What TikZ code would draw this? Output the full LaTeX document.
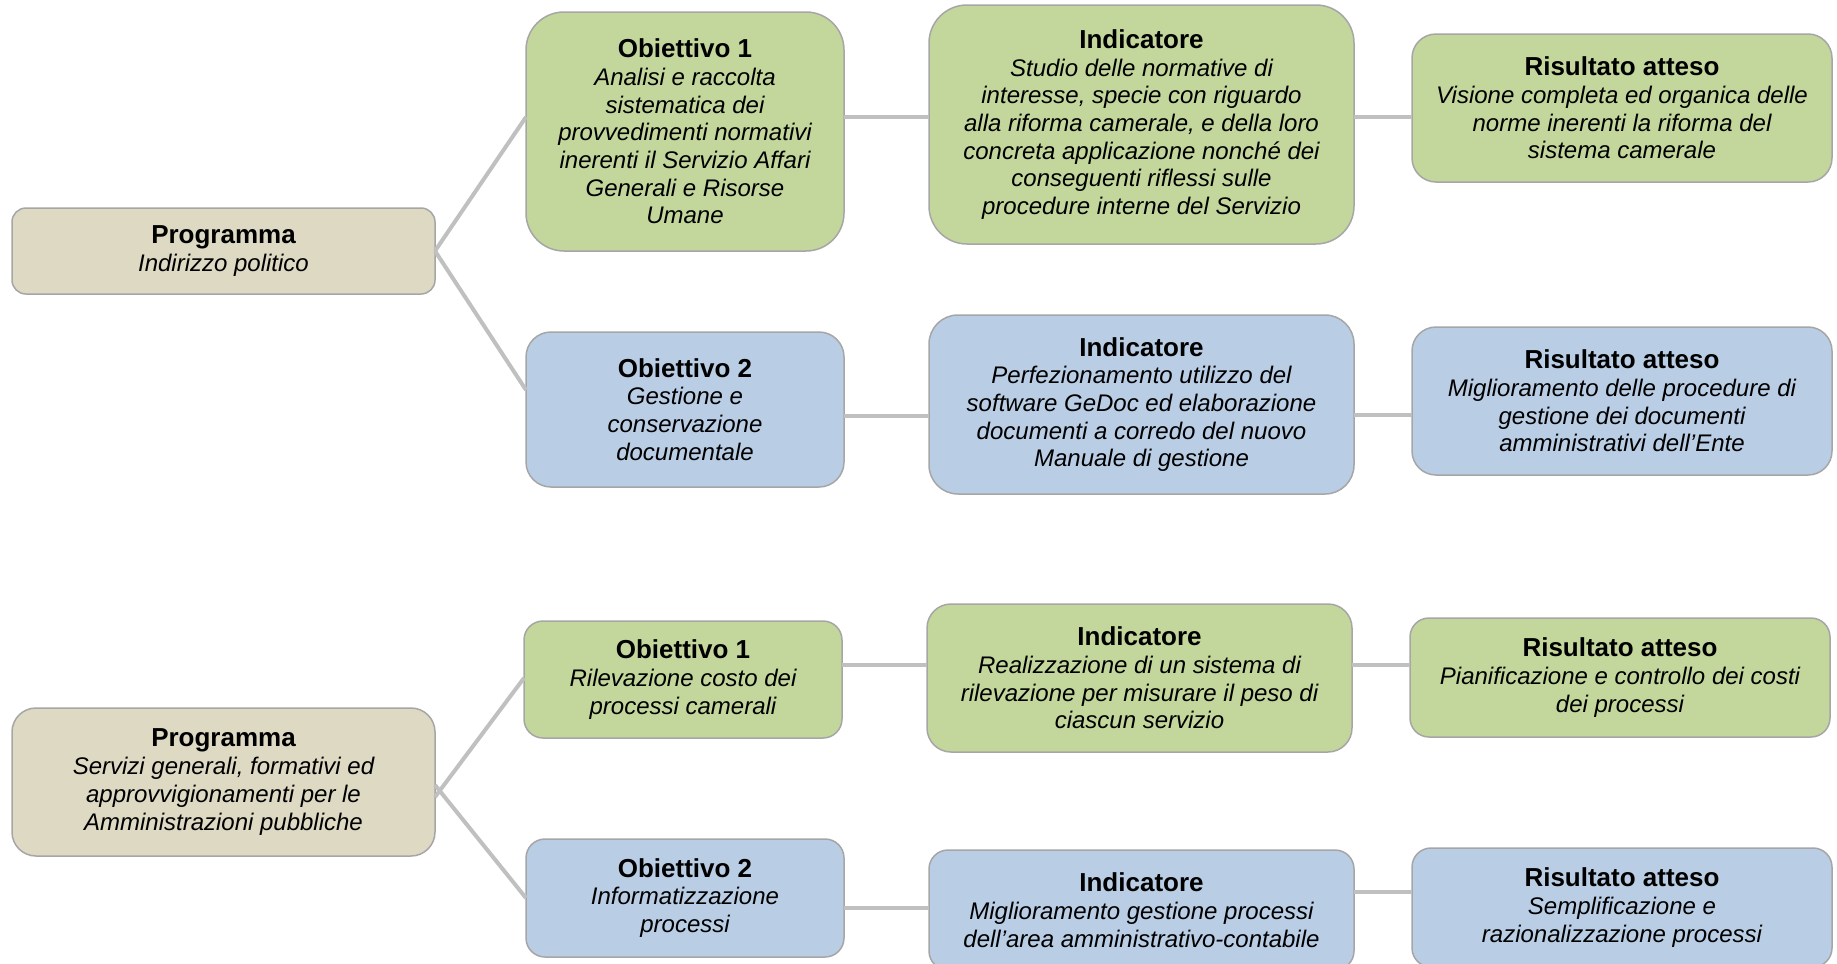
\documentclass[tikz,border=0pt]{standalone}
\usepackage{fontspec}
\setmainfont{Liberation Sans}
\definecolor{cProg}{HTML}{DDD9C3}
\definecolor{cGreen}{HTML}{C3D69B}
\definecolor{cBlue}{HTML}{B9CDE5}
\definecolor{cBorder}{HTML}{A6A6A6}
\definecolor{cLine}{HTML}{C0C0C0}
\newcommand\boxtitle[1]{{\fontsize{26}{27.7}\selectfont\upshape\bfseries #1}}
\begin{document}
\begin{tikzpicture}[x=1pt,y=-1pt,
  box/.style={draw=cBorder, line width=1.5pt, inner sep=0pt, outer sep=0pt,
    align=center, font=\fontsize{24}{27.7}\selectfont\itshape},
  progbox/.style={box, fill=cProg},
  grnbox/.style={box, fill=cGreen},
  blubox/.style={box, fill=cBlue},
  conn/.style={draw=cLine, line width=4pt}]
\useasboundingbox (0,0) rectangle (1837,964);

% ---- first programme ----
\node[progbox, minimum width=423pt, minimum height=86pt, rounded corners=14pt] (prog1) at (223.5,251)
  {\boxtitle{Programma}\\Indirizzo politico};
\node[grnbox, minimum width=318pt, minimum height=239pt, rounded corners=38pt] (ob1) at (685,131.5)
  {\boxtitle{Obiettivo 1}\\Analisi e raccolta\\sistematica dei\\provvedimenti normativi\\inerenti il Servizio Affari\\Generali e Risorse\\Umane};
\node[grnbox, minimum width=425pt, minimum height=239pt, rounded corners=38pt] (ind1) at (1141.5,124.5)
  {\boxtitle{Indicatore}\\Studio delle normative di\\interesse, specie con riguardo\\alla riforma camerale, e della loro\\concreta applicazione nonché dei\\conseguenti riflessi sulle\\procedure interne del Servizio};
\node[grnbox, minimum width=420pt, minimum height=148pt, rounded corners=24pt] (ris1) at (1622,108)
  {\boxtitle{Risultato atteso}\\Visione completa ed organica delle\\norme inerenti la riforma del\\sistema camerale};
\node[blubox, minimum width=318pt, minimum height=155pt, rounded corners=25pt] (ob2) at (685,409.5)
  {\boxtitle{Obiettivo 2}\\Gestione e\\conservazione\\documentale};
\node[blubox, minimum width=425pt, minimum height=179pt, rounded corners=29pt] (ind2) at (1141.5,404.5)
  {\boxtitle{Indicatore}\\Perfezionamento utilizzo del\\software GeDoc ed elaborazione\\documenti a corredo del nuovo\\Manuale di gestione};
\node[blubox, minimum width=420pt, minimum height=148pt, rounded corners=24pt] (ris2) at (1622,401)
  {\boxtitle{Risultato atteso}\\Miglioramento delle procedure di\\gestione dei documenti\\amministrativi dell’Ente};

% ---- second programme ----
\node[progbox, minimum width=423pt, minimum height=148pt, rounded corners=24pt] (prog2) at (223.5,782)
  {\boxtitle{Programma}\\Servizi generali, formativi ed\\approvvigionamenti per le\\Amministrazioni pubbliche};
\node[grnbox, minimum width=318pt, minimum height=117pt, rounded corners=19pt] (ob1b) at (683,679.5)
  {\boxtitle{Obiettivo 1}\\Rilevazione costo dei\\processi camerali};
\node[grnbox, minimum width=425pt, minimum height=148pt, rounded corners=24pt] (ind1b) at (1139.5,678)
  {\boxtitle{Indicatore}\\Realizzazione di un sistema di\\rilevazione per misurare il peso di\\ciascun servizio};
\node[grnbox, minimum width=420pt, minimum height=119pt, rounded corners=19pt] (ris1b) at (1620,677.5)
  {\boxtitle{Risultato atteso}\\Pianificazione e controllo dei costi\\dei processi};
\node[blubox, minimum width=318pt, minimum height=118pt, rounded corners=19pt] (ob2b) at (685,898)
  {\boxtitle{Obiettivo 2}\\Informatizzazione\\processi};
\node[blubox, minimum width=425pt, minimum height=120pt, rounded corners=19pt] (ind2b) at (1141.5,910)
  {\boxtitle{Indicatore}\\Miglioramento gestione processi\\dell’area amministrativo-contabile};
\node[blubox, minimum width=420pt, minimum height=119pt, rounded corners=19pt] (ris2b) at (1622,907.5)
  {\boxtitle{Risultato atteso}\\Semplificazione e\\razionalizzazione processi};

% ---- connector levels ----
\coordinate (lvA) at (0,117);
\coordinate (lvB) at (0,390);
\coordinate (lvC) at (0,416);
\coordinate (lvD) at (0,415);
\coordinate (lvE) at (0,665);
\coordinate (lvF) at (0,908);
\coordinate (lvG) at (0,892);
\coordinate (lvH) at (0,678);
\coordinate (lvI) at (0,797);
\coordinate (lvJ) at (0,785);

% ---- connectors ----
\draw[conn] (prog1.east) -- (ob1.west |- lvA);
\draw[conn] (prog1.east) -- (ob2.west |- lvB);
\draw[conn] (ob1.east |- lvA) -- (ind1.west |- lvA);
\draw[conn] (ind1.east |- lvA) -- (ris1.west |- lvA);
\draw[conn] (ob2.east |- lvC) -- (ind2.west |- lvC);
\draw[conn] (ind2.east |- lvD) -- (ris2.west |- lvD);

\draw[conn] (prog2.east |- lvI) -- (ob1b.west |- lvH);
\draw[conn] (prog2.east |- lvJ) -- (ob2b.west);
\draw[conn] (ob1b.east |- lvE) -- (ind1b.west |- lvE);
\draw[conn] (ind1b.east |- lvE) -- (ris1b.west |- lvE);
\draw[conn] (ob2b.east |- lvF) -- (ind2b.west |- lvF);
\draw[conn] (ind2b.east |- lvG) -- (ris2b.west |- lvG);
\end{tikzpicture}
\end{document}
